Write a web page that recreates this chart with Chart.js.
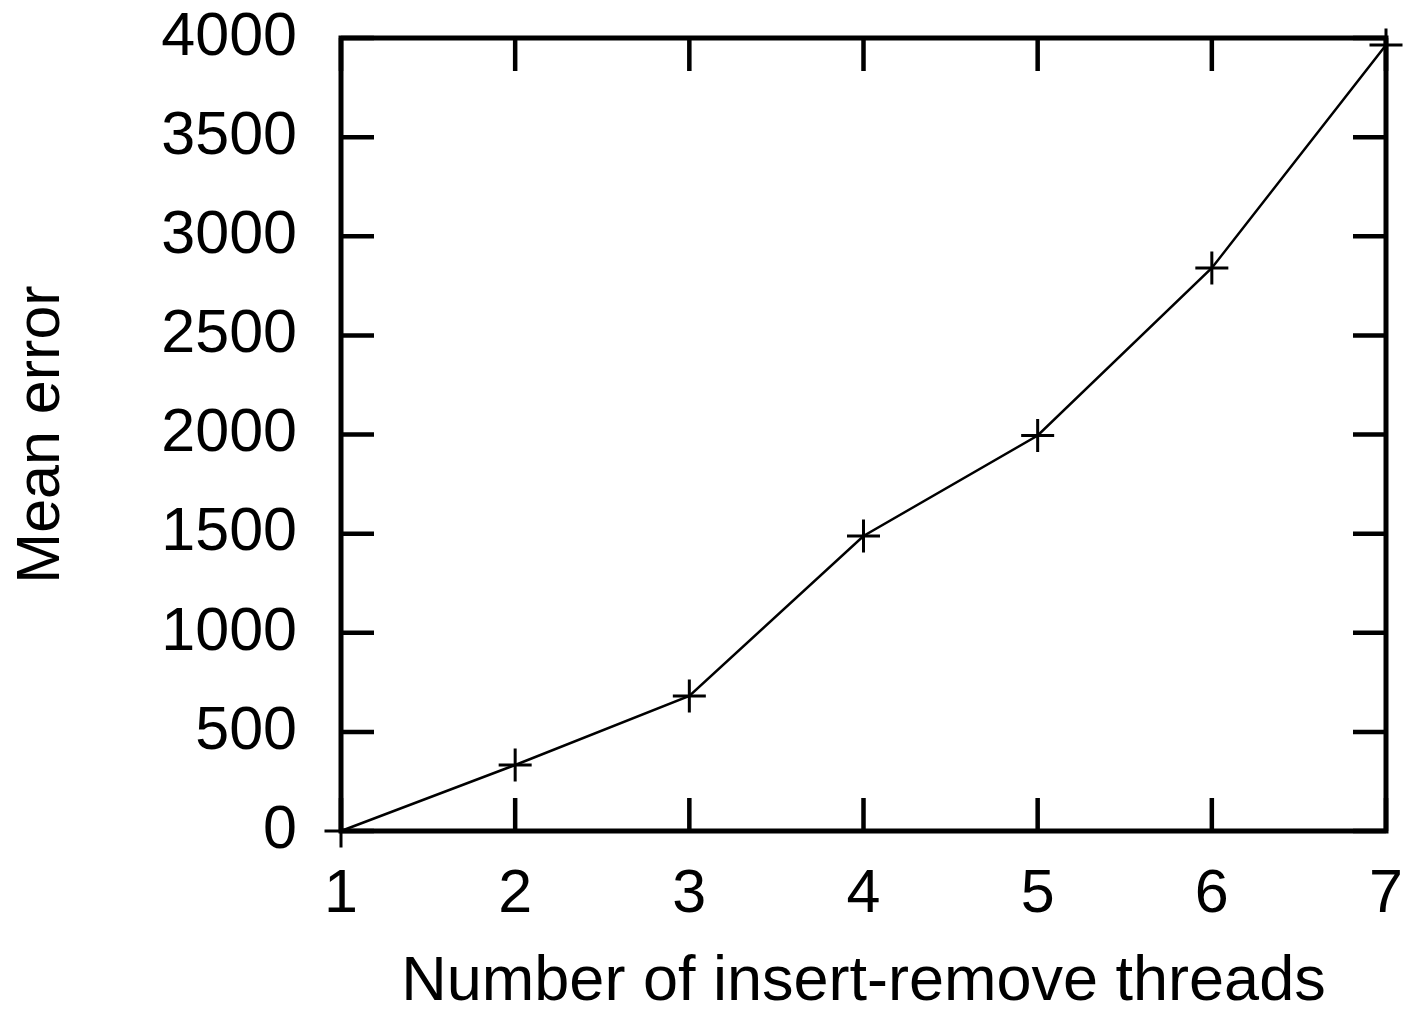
<!DOCTYPE html>
<html>
<head>
<meta charset="utf-8">
<title>Mean error vs insert-remove threads</title>
<script src="https://cdn.jsdelivr.net/npm/chart.js@4"></script>
<style>
  html, body { margin: 0; padding: 0; background: #fff; }
  #wrap { width: 1412px; height: 1014px; position: relative; }
</style>
</head>
<body>
<div id="wrap"><canvas id="chart"></canvas></div>
<script>
// ---- Data ----
const threads = [1, 2, 3, 4, 5, 6, 7];
const meanError = [0, 333, 681, 1488, 1995, 2840, 3965];

const xTitle = 'Number of insert-remove threads';
const yTitle = 'Mean error';

const FONT = '"Liberation Sans", Arial, Helvetica, sans-serif';

// gnuplot-style frame with inward ticks on all four sides
const frameTicks = {
  id: 'frameTicks',
  beforeDatasetsDraw(chart) {
    const { ctx, chartArea: a, scales } = chart;
    const len = 33;
    ctx.save();
    ctx.strokeStyle = '#000';
    ctx.lineWidth = 4.5;
    ctx.lineCap = 'butt';
    ctx.beginPath();
    for (const t of scales.x.ticks) {
      const px = scales.x.getPixelForValue(t.value);
      ctx.moveTo(px, a.bottom); ctx.lineTo(px, a.bottom - len);
      ctx.moveTo(px, a.top); ctx.lineTo(px, a.top + len);
    }
    for (const t of scales.y.ticks) {
      const py = scales.y.getPixelForValue(t.value);
      ctx.moveTo(a.left, py); ctx.lineTo(a.left + len, py);
      ctx.moveTo(a.right, py); ctx.lineTo(a.right - len, py);
    }
    ctx.stroke();
    ctx.lineWidth = 5;
    ctx.strokeRect(a.left, a.top, a.right - a.left, a.bottom - a.top);
    ctx.restore();
  },
};

// keep the plot box where the reference has it
function noEdgePadding(scale) {
  scale.paddingTop = 0;
  scale.paddingBottom = 0;
  scale.paddingLeft = 0;
  scale.paddingRight = 0;
}

new Chart(document.getElementById('chart'), {
  type: 'line',
  data: {
    datasets: [{
      label: yTitle,
      data: threads.map((x, i) => ({ x, y: meanError[i] })),
      borderColor: '#000',
      borderWidth: 2.5,
      tension: 0,
      fill: false,
      clip: false,
      pointStyle: 'cross',
      pointRadius: 16.5,
      pointBorderWidth: 3,
      pointBorderColor: '#000',
      pointBackgroundColor: '#000',
    }],
  },
  options: {
    responsive: true,
    maintainAspectRatio: false,
    animation: false,
    layout: { padding: { left: 0, top: 38, right: 26, bottom: 0 } },
    plugins: {
      legend: { display: false },
      tooltip: { enabled: false },
    },
    scales: {
      x: {
        type: 'linear',
        min: 1,
        max: 7,
        grid: { display: false, drawTicks: false },
        border: { display: false },
        ticks: {
          stepSize: 1,
          padding: 28,
          color: '#000',
          font: { family: FONT, size: 61, lineHeight: 1.2 },
          callback: (v) => String(v),
        },
        title: {
          display: true,
          text: xTitle,
          color: '#000',
          padding: { top: 0, bottom: 0 },
          font: { family: FONT, size: 63, lineHeight: 1 },
        },
        afterFit(scale) { scale.height = 183; noEdgePadding(scale); },
      },
      y: {
        min: 0,
        max: 4000,
        grid: { display: false, drawTicks: false },
        border: { display: false },
        ticks: {
          stepSize: 500,
          padding: 44,
          color: '#000',
          font: { family: FONT, size: 61, lineHeight: 1.2 },
          callback: (v) => String(v),
        },
        title: {
          display: true,
          text: yTitle,
          color: '#000',
          padding: { top: 12, bottom: 0 },
          font: { family: FONT, size: 61, lineHeight: 1 },
        },
        afterFit(scale) { scale.width = 341; noEdgePadding(scale); },
      },
    },
  },
  plugins: [frameTicks],
});
</script>
</body>
</html>
